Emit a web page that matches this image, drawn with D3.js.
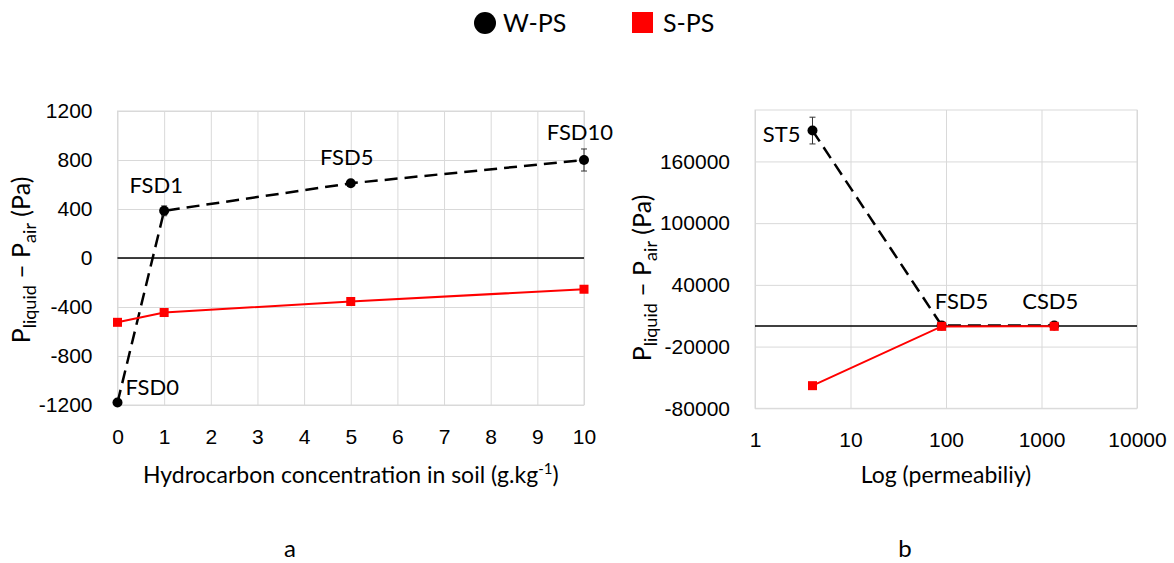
<!DOCTYPE html>
<html>
<head>
<meta charset="utf-8">
<script src="https://cdn.jsdelivr.net/npm/d3@7"></script>
<style>
  body { margin: 0; background: #fff; }
  svg { font-family: Lato, "Open Sans", sans-serif; }
  .tick text { font-size: 21px; fill: #000; }
  .grid line { stroke: #d9d9d9; stroke-width: 1; }
  .grid .domain { display: none; }
</style>
</head>
<body>
<svg width="1174" height="563"></svg>
<script>
// panel a: hydrocarbon concentration
var concX = [0, 1, 5, 10];
var concLabels = ["FSD0", "FSD1", "FSD5", "FSD10"];
var concWPS = [-1180, 385, 610, 800];
var concWPSErr = [0, 40, 25, 90];
var concSPS = [-525, -445, -355, -255];
var concYTicks = [-1200, -800, -400, 0, 400, 800, 1200];

// panel b: permeability
var permX = [4, 90, 1360];
var permLabels = ["ST5", "FSD5", "CSD5"];
var permWPS = [190000, 610, 500];
var permWPSErr = [13000, 0, 0];
var permSPS = [-58000, -355, -300];
var permXTicks = [1, 10, 100, 1000, 10000];
var permYTicks = [-80000, -20000, 40000, 100000, 160000];

var svg = d3.select("svg");

function yTitle(x, y) {
    var t = svg.append("text")
        .attr("transform", "translate(" + x + "," + y + ") rotate(-90)")
        .attr("text-anchor", "middle")
        .attr("font-size", 25);
    t.append("tspan").text("P");
    t.append("tspan").attr("font-size", 18).attr("dy", 6).text("liquid");
    t.append("tspan").attr("dy", -6).text(" \u2013 P");
    t.append("tspan").attr("font-size", 18).attr("dy", 6).text("air");
    t.append("tspan").attr("dy", -6).text("  (Pa)");
}

function drawPanel(opt) {
    var g = svg.append("g");
    var x = opt.x, y = opt.y;
    var w = x.range()[1] - x.range()[0];
    var h = y.range()[0] - y.range()[1];

    // grid
    g.append("g").attr("class", "grid")
        .attr("transform", "translate(0," + y.range()[0] + ")")
        .call(d3.axisBottom(x).tickValues(opt.xTicks).tickSize(-h).tickFormat(""));
    g.append("g").attr("class", "grid")
        .attr("transform", "translate(" + x.range()[0] + ",0)")
        .call(d3.axisLeft(y).tickValues(opt.yTicks).tickSize(-w).tickFormat(""));
    g.append("rect")
        .attr("x", x.range()[0]).attr("y", y.range()[1])
        .attr("width", w).attr("height", h)
        .attr("fill", "none").attr("stroke", "#d9d9d9");

    // zero line
    g.append("line")
        .attr("x1", x.range()[0]).attr("x2", x.range()[1])
        .attr("y1", y(0)).attr("y2", y(0))
        .attr("stroke", "#000").attr("stroke-width", 1.5);

    // tick labels
    var xa = g.append("g")
        .attr("transform", "translate(0," + (y.range()[0] + 21) + ")")
        .call(d3.axisBottom(x).tickValues(opt.xTicks).tickSize(0).tickFormat(d3.format("d")));
    xa.select(".domain").remove();
    var ya = g.append("g")
        .attr("transform", "translate(" + (x.range()[0] - 22) + ",0)")
        .call(d3.axisLeft(y).tickValues(opt.yTicks).tickSize(0));
    ya.select(".domain").remove();
    ya.selectAll("text").text(function (d) { return String(d); });

    var pts = opt.xs.map(function (d, i) {
        return { x: d, w: opt.wps[i], e: opt.err[i], s: opt.sps[i], label: opt.labels[i] };
    });
    var lineW = d3.line().x(function (d) { return x(d.x); }).y(function (d) { return y(d.w); });
    var lineS = d3.line().x(function (d) { return x(d.x); }).y(function (d) { return y(d.s); });

    g.append("path").attr("d", lineW(pts))
        .attr("fill", "none").attr("stroke", "#000")
        .attr("stroke-width", 2.5).attr("stroke-dasharray", "13,7");

    // error bars
    pts.filter(function (d) { return d.e > 0; }).forEach(function (d) {
        var cx = x(d.x), y1 = y(d.w + d.e), y2 = y(d.w - d.e);
        g.append("path")
            .attr("d", "M" + cx + "," + y1 + "V" + y2 + "M" + (cx - 3) + "," + y1 + "H" + (cx + 3) + "M" + (cx - 3) + "," + y2 + "H" + (cx + 3))
            .attr("stroke", "#333").attr("stroke-width", 1).attr("fill", "none");
    });

    g.selectAll(".wdot").data(pts).enter().append("circle")
        .attr("cx", function (d) { return x(d.x); })
        .attr("cy", function (d) { return y(d.w); })
        .attr("r", 5).attr("fill", "#000");

    g.append("path").attr("d", lineS(pts))
        .attr("fill", "none").attr("stroke", "#ff0000").attr("stroke-width", 2);
    g.selectAll(".sdot").data(pts).enter().append("rect")
        .attr("x", function (d) { return x(d.x) - 4.5; })
        .attr("y", function (d) { return y(d.s) - 4.5; })
        .attr("width", 9).attr("height", 9).attr("fill", "#ff0000");

    g.selectAll(".lab").data(pts).enter().append("text")
        .attr("x", function (d, i) { return x(d.x) + opt.labOff[i][0]; })
        .attr("y", function (d, i) { return y(d.w) + opt.labOff[i][1]; })
        .attr("text-anchor", function (d, i) { return opt.labOff[i][2]; })
        .attr("font-size", 22)
        .text(function (d) { return d.label; });

    g.append("text")
        .attr("x", (x.range()[0] + x.range()[1]) / 2).attr("y", 483)
        .attr("text-anchor", "middle").attr("font-size", 23)
        .call(opt.xTitle);
}

var xa = d3.scaleLinear().domain([0, 10]).range([117.5, 584]);
var ya = d3.scaleLinear().domain([-1200, 1200]).range([405, 111]);
drawPanel({
    x: xa, y: ya, xTicks: d3.range(0, 11), yTicks: concYTicks,
    xs: concX, wps: concWPS, err: concWPSErr, sps: concSPS, labels: concLabels,
    labOff: [[8, -8, "start"], [-8, -18, "middle"], [-4, -18, "middle"], [-4, -20, "middle"]],
    xTitle: function (t) {
        t.append("tspan").text("Hydrocarbon concentration in soil (g.kg");
        t.append("tspan").attr("font-size", 15).attr("dy", -9).text("-1");
        t.append("tspan").attr("dy", 9).text(")");
    }
});

var xb = d3.scaleLog().domain([1, 10000]).range([755, 1137]);
var yb = d3.scaleLinear().domain([-80000, 210000]).range([408.3, 110]);
drawPanel({
    x: xb, y: yb, xTicks: permXTicks, yTicks: permYTicks,
    xs: permX, wps: permWPS, err: permWPSErr, sps: permSPS, labels: permLabels,
    labOff: [[-12, 11, "end"], [20, -16, "middle"], [-4, -16, "middle"]],
    xTitle: function (t) { t.text("Log (permeabiliy)"); }
});

yTitle(30, 260);
yTitle(651, 278);

// legend
svg.append("circle").attr("cx", 485).attr("cy", 23).attr("r", 11).attr("fill", "#000");
svg.append("text").attr("x", 503).attr("y", 32).attr("font-size", 25).text("W-PS");
svg.append("rect").attr("x", 632).attr("y", 12).attr("width", 21).attr("height", 21).attr("fill", "#ff0000");
svg.append("text").attr("x", 663).attr("y", 32).attr("font-size", 25).text("S-PS");

svg.append("text").attr("x", 290).attr("y", 557).attr("text-anchor", "middle").attr("font-size", 24).text("a");
svg.append("text").attr("x", 905).attr("y", 557).attr("text-anchor", "middle").attr("font-size", 24).text("b");
</script>
</body>
</html>
